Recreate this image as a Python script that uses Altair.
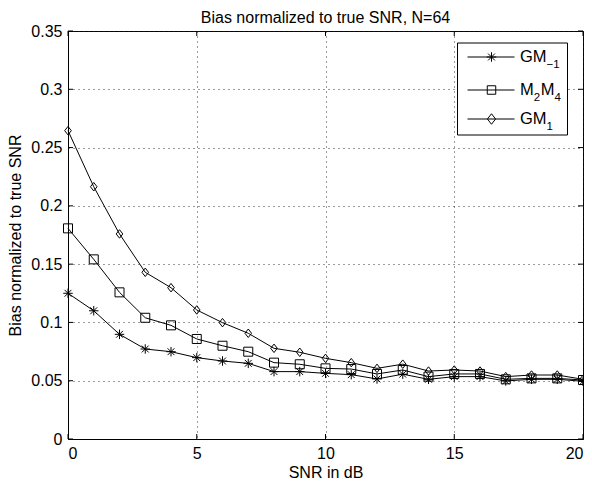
import altair as alt
import pandas as pd

# ---------------- data ----------------
snr = list(range(21))
gm_m1 = [0.125, 0.110, 0.0898, 0.0772, 0.0749, 0.0698, 0.0669, 0.0649, 0.0578, 0.0578,
         0.0563, 0.0552, 0.0515, 0.0556, 0.0512, 0.0535, 0.0535, 0.0498, 0.0512, 0.0512, 0.0495]
m2m4 = [0.1807, 0.1541, 0.1258, 0.104, 0.0975, 0.0858, 0.080, 0.0749, 0.0655, 0.0641,
        0.0606, 0.0600, 0.0558, 0.0592, 0.0535, 0.0558, 0.0558, 0.0512, 0.052, 0.052, 0.0506]
gm_1 = [0.2645, 0.2164, 0.1759, 0.143, 0.1298, 0.1107, 0.0998, 0.0907, 0.0778, 0.0744,
        0.0692, 0.0655, 0.0606, 0.0642, 0.0583, 0.0592, 0.0583, 0.0535, 0.0549, 0.0549, 0.0512]
series_names = ["GM-1", "M2M4", "GM1"]
x_ticks = [0, 5, 10, 15, 20]
y_ticks = [0, 0.05, 0.1, 0.15, 0.2, 0.25, 0.3, 0.35]

# legend label pieces: (text, is_subscript)
legend_labels = [
    [("GM", False), ("\u22121", True)],
    [("M", False), ("2", True), ("M", False), ("4", True)],
    [("GM", False), ("1", True)],
]

rows = []
for name, vals in zip(series_names, [gm_m1, m2m4, gm_1]):
    for s, v in zip(snr, vals):
        rows.append({"snr": s, "bias": v, "series": name})
df = pd.DataFrame(rows)

FONT = "Liberation Sans"
FS = 16
W, H = 515, 408

STAR = "M-1,0L1,0M0,-1L0,1M-0.72,-0.72L0.72,0.72M-0.72,0.72L0.72,-0.72"
DIAMOND = "M0,-1L0.78,0L0,1L-0.78,0Z"
shape_range = [STAR, "square", DIAMOND]
size_range = [90, 72, 110]

xenc = alt.X("snr:Q", scale=alt.Scale(domain=[0, 20], nice=False, zero=False),
             axis=alt.Axis(values=x_ticks, title="SNR in dB", grid=True, ticks=False,
                           labelPadding=6, titlePadding=3, format="~g"))
yenc = alt.Y("bias:Q", scale=alt.Scale(domain=[0, 0.35], nice=False),
             axis=alt.Axis(values=y_ticks, title="Bias normalized to true SNR", grid=True,
                           ticks=False, labelPadding=6, titlePadding=7, format="~g"))

base = alt.Chart(df)
lines = base.mark_line(color="black", strokeWidth=1).encode(
    x=xenc, y=yenc, detail="series:N")
points = base.mark_point(color="black", strokeWidth=1, filled=False, opacity=1).encode(
    x="snr:Q", y="bias:Q",
    shape=alt.Shape("series:N", scale=alt.Scale(domain=series_names, range=shape_range), legend=None),
    size=alt.Size("series:N", scale=alt.Scale(domain=series_names, range=size_range), legend=None),
)

# inward ticks on all four sides
tick_df_x = pd.DataFrame({"t": x_ticks})
tick_df_y = pd.DataFrame({"t": y_ticks})
tb = alt.Chart(tick_df_x).mark_rule(color="black", strokeWidth=1).encode(
    x="t:Q", y=alt.value(H), y2=alt.value(H - 5))
tt = alt.Chart(tick_df_x).mark_rule(color="black", strokeWidth=1).encode(
    x="t:Q", y=alt.value(0), y2=alt.value(5))
tl = alt.Chart(tick_df_y).mark_rule(color="black", strokeWidth=1).encode(
    y="t:Q", x=alt.value(0), x2=alt.value(5))
tr = alt.Chart(tick_df_y).mark_rule(color="black", strokeWidth=1).encode(
    y="t:Q", x=alt.value(W), x2=alt.value(W - 5))

# legend (custom, MATLAB style)
one = pd.DataFrame({"a": [0]})
box = alt.Chart(one).mark_rect(fill="white", stroke="black", strokeWidth=1).encode(
    x=alt.value(389.5), x2=alt.value(499.5), y=alt.value(12), y2=alt.value(104))
leg_layers = [box]
entry_y = [26, 59, 88]
char_w = {"G": 0.778, "M": 0.833, "\u22121": 1.14, "1": 0.556, "2": 0.556, "4": 0.556}
for i, name in enumerate(series_names):
    ly = entry_y[i]
    leg_layers.append(alt.Chart(one).mark_rule(color="black", strokeWidth=1).encode(
        x=alt.value(399.5), x2=alt.value(446.5), y=alt.value(ly)))
    leg_layers.append(alt.Chart(one).mark_point(
        color="black", strokeWidth=1, filled=False, opacity=1,
        shape=shape_range[i], size=size_range[i]).encode(
        x=alt.value(423.5), y=alt.value(ly)))
    cx = 452.0
    for txt, sub in legend_labels[i]:
        fs = 11.5 if sub else 16.5
        leg_layers.append(alt.Chart(one).mark_text(
            align="left", baseline="middle", font=FONT, fontSize=fs, color="black").encode(
            x=alt.value(cx), y=alt.value(ly + (8 if sub else 0)), text=alt.value(txt)))
        w = sum(char_w.get(c, 0.6) for c in txt) if txt != "\u22121" else char_w[txt]
        cx += w * fs + (0.5 if sub else 0)

chart = alt.layer(lines, points, tb, tt, tl, tr, *leg_layers).properties(
    width=W, height=H,
    title=alt.TitleParams("Bias normalized to true SNR, N=64", font=FONT, fontSize=FS,
                          fontWeight="normal", color="black", offset=-3),
    autosize=alt.AutoSizeParams(type="none"),
    padding={"left": 60, "top": 23, "right": 1, "bottom": 44},
).configure_view(stroke="black", strokeWidth=1).configure_axis(
    labelFont=FONT, titleFont=FONT, labelFontSize=FS, titleFontSize=FS,
    labelColor="black", titleColor="black", titleFontWeight="normal",
    domainColor="black", domainWidth=1,
    gridColor="#222", gridDash=[1, 4], gridWidth=1, gridOpacity=0.9,
)

chart.save("out.html", embed_options={"renderer": "svg", "actions": False})
